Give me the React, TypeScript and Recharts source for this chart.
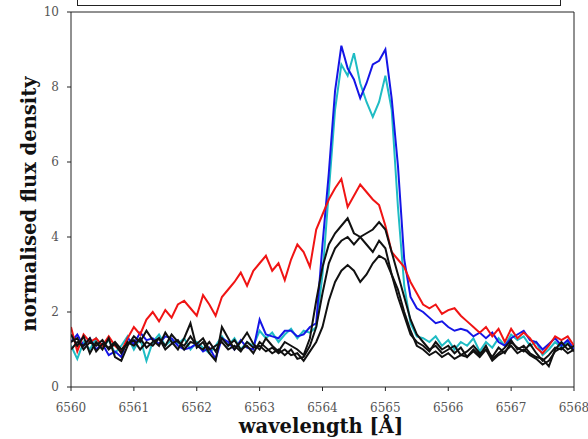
import React from 'react';
import { LineChart, Line, XAxis, YAxis, ReferenceLine } from 'recharts';

// wavelength grid in Angstrom
const wavelength = [
  6560.0, 6560.1, 6560.2, 6560.3, 6560.4, 6560.5, 6560.6, 6560.7, 6560.8, 6560.9,
  6561.0, 6561.1, 6561.2, 6561.3, 6561.4, 6561.5, 6561.6, 6561.7, 6561.8, 6561.9,
  6562.0, 6562.1, 6562.2, 6562.3, 6562.4, 6562.5, 6562.6, 6562.7, 6562.8, 6562.9,
  6563.0, 6563.1, 6563.2, 6563.3, 6563.4, 6563.5, 6563.6, 6563.7, 6563.8, 6563.9,
  6564.0, 6564.1, 6564.2, 6564.3, 6564.4, 6564.5, 6564.6, 6564.7, 6564.8, 6564.9,
  6565.0, 6565.1, 6565.2, 6565.3, 6565.4, 6565.5, 6565.6, 6565.7, 6565.8, 6565.9,
  6566.0, 6566.1, 6566.2, 6566.3, 6566.4, 6566.5, 6566.6, 6566.7, 6566.8, 6566.9,
  6567.0, 6567.1, 6567.2, 6567.3, 6567.4, 6567.5, 6567.6, 6567.7, 6567.8, 6567.9,
  6568.0,
];

const redFlux = [
  1.6, 0.95, 1.4, 1.2, 1.3, 1.1, 1.35, 1.1, 0.95, 1.3,
  1.6, 1.4, 1.8, 2.0, 1.75, 2.05, 1.85, 2.2, 2.3, 2.1,
  1.9, 2.45, 2.2, 1.9, 2.4, 2.6, 2.8, 3.05, 2.7, 3.1,
  3.3, 3.5, 3.1, 3.3, 2.85, 3.4, 3.8, 3.6, 3.2, 4.2,
  4.6, 5.0, 5.3, 5.55, 4.8, 5.1, 5.4, 5.2, 5.0, 4.85,
  4.3, 3.6, 3.4, 3.2, 2.8, 2.5, 2.2, 2.1, 2.2, 1.95,
  2.05, 2.1, 1.9, 1.75, 1.6, 1.45, 1.6, 1.35, 1.55, 1.2,
  1.55, 1.3, 1.45, 1.3, 1.05, 0.9, 1.1, 1.35, 1.25, 1.35,
  1.1,
];

const blueFlux = [
  1.2, 1.4, 1.1, 1.3, 1.0, 1.15, 0.85, 0.95, 0.8, 1.3,
  1.15, 1.45, 1.25, 1.3, 1.15, 1.35, 1.3, 1.1, 1.0, 1.05,
  1.15, 0.95, 1.05, 0.75, 1.3, 1.2, 1.0, 1.25, 1.05, 1.0,
  1.8, 1.4, 1.35, 1.3, 1.5, 1.5, 1.35, 1.4, 1.6, 1.7,
  3.8, 5.7, 7.9, 9.1, 8.5, 8.2, 7.7, 8.1, 8.6, 8.7,
  9.0, 7.7, 5.9, 3.4, 2.4, 2.1, 2.0, 1.85, 1.7, 1.75,
  1.6, 1.5, 1.55, 1.5, 1.35, 1.45, 1.3, 1.45, 1.2, 1.1,
  1.3, 1.4, 1.5, 1.25, 1.2, 1.0, 1.15, 1.3, 1.1, 1.25,
  1.0,
];

const cyanFlux = [
  1.1, 0.75, 1.2, 1.0, 1.3, 1.05, 1.25, 0.9, 1.1, 1.35,
  1.0, 1.3, 0.7, 1.2, 1.4, 1.1, 1.25, 1.15, 1.3, 1.0,
  1.2, 1.05, 0.9, 1.1, 1.35, 1.1, 1.3, 1.0, 1.2, 1.1,
  1.5, 1.3, 1.45, 1.2, 1.4, 1.55, 1.3, 1.5, 1.45, 1.6,
  3.0, 5.2, 7.4, 8.6, 8.3, 8.9, 8.1, 7.6, 7.2, 7.6,
  8.3, 7.4, 4.8, 2.7, 1.7, 1.35, 1.3, 1.2, 1.35, 1.1,
  1.25, 1.0, 1.2, 1.1, 1.3, 0.95, 1.2, 1.05, 1.3, 1.1,
  1.4, 1.25, 1.35, 1.1, 1.2, 0.85, 1.0, 1.2, 1.05, 1.2,
  1.0,
];

const blackFluxA = [
  1.4, 1.1, 1.35, 0.9, 1.2, 1.0, 1.3, 0.8, 0.7, 1.1,
  1.35, 1.2, 1.5, 1.25, 1.1, 1.45, 1.2, 1.0, 1.3, 1.7,
  1.05, 1.2, 0.9, 0.7, 1.6, 1.3, 1.0, 1.2, 1.45, 1.15,
  1.0, 1.3, 1.1, 0.95, 1.2, 1.1, 1.0, 0.85, 1.3, 2.3,
  3.2, 3.8, 4.1, 4.3, 4.5, 4.1, 4.0, 3.8, 3.6, 3.9,
  3.7, 3.0, 2.4, 1.9, 1.4, 1.2, 1.1, 0.95, 1.2, 1.0,
  1.1, 0.9, 1.05, 0.8, 1.0, 0.85, 1.1, 0.75, 0.9, 1.05,
  1.25, 1.0, 1.1, 0.9, 0.8, 0.75, 0.55, 1.0, 1.2, 1.0,
  1.1,
];

const blackFluxB = [
  1.2, 1.3, 1.0, 1.2, 1.1, 1.25, 1.0, 1.15, 0.9, 1.2,
  1.1, 1.3, 1.05, 1.2, 1.3, 1.1, 1.4, 1.2, 1.1, 1.35,
  1.1, 1.0, 1.2, 0.95, 1.3, 1.1, 1.25, 1.0, 1.1, 0.9,
  1.2, 1.05, 0.9, 1.0, 0.85, 1.0, 0.75, 0.8, 1.1, 1.6,
  2.5, 3.3, 3.7, 3.9, 4.0, 3.8, 4.0, 4.1, 4.2, 4.4,
  4.2, 3.6, 3.0, 2.4, 1.8, 1.4, 1.2, 1.0, 1.1, 0.9,
  1.0, 1.1, 0.85, 0.95, 1.1, 0.9, 1.0, 0.8, 1.05, 0.9,
  1.2, 1.05, 0.95, 1.15, 0.9, 0.7, 0.85, 1.05, 1.0, 1.15,
  0.95,
];

const blackFluxC = [
  1.0, 1.2, 1.1, 1.3, 0.95, 1.15, 1.05, 1.2, 1.0, 1.15,
  1.25, 1.0, 1.2, 1.1, 1.3, 1.0, 1.15, 1.25, 1.0, 1.2,
  1.15, 1.3, 1.0, 1.1, 1.2, 1.0, 1.1, 0.95, 1.2, 1.05,
  1.1, 0.95, 1.05, 0.9, 1.0, 0.85, 0.9, 0.7, 0.95, 1.2,
  1.6, 2.3, 2.8, 3.1, 3.25, 3.1, 2.8, 3.0, 3.3, 3.5,
  3.4, 3.0, 2.6, 2.0, 1.5, 1.1, 1.0, 0.85, 0.95, 0.8,
  0.9, 0.75, 0.85, 0.8, 0.95, 0.8, 1.0, 0.7, 0.85, 0.95,
  1.1, 0.9, 1.0, 0.85, 0.75, 0.6, 0.7, 0.95, 1.05, 0.9,
  1.0,
];

const xTicks = [6560, 6561, 6562, 6563, 6564, 6565, 6566, 6567, 6568];
const yTicks = [0, 2, 4, 6, 8, 10];

const data = wavelength.map((w, i) => ({
  w,
  red: redFlux[i],
  blue: blueFlux[i],
  cyan: cyanFlux[i],
  k1: blackFluxA[i],
  k2: blackFluxB[i],
  k3: blackFluxC[i],
}));

const tickStyle = { fill: '#555', fontSize: 12, fontFamily: '"DejaVu Serif", serif' };
const labelFont = '"DejaVu Serif", serif';

export default function App() {
  return (
    <div style={{ position: 'absolute', left: 0, top: 0, width: 588, height: 439, background: '#fff', overflow: 'hidden' }}>
      {/* clipped legend box at the top */}
      <div style={{ position: 'absolute', left: 77, top: -20, width: 482, height: 24, border: '1px solid #222' }} />
      <LineChart width={588} height={439} data={data} margin={{ top: 12, right: 14, left: 0, bottom: 0 }}>
        <XAxis
          dataKey="w"
          type="number"
          domain={[6560, 6568]}
          ticks={xTicks}
          allowDataOverflow
          height={52}
          tick={tickStyle}
          tickSize={4}
          stroke="#222"
          tickMargin={12}
        />
        <YAxis
          type="number"
          domain={[0, 10]}
          ticks={yTicks}
          allowDataOverflow
          width={71}
          tick={tickStyle}
          tickSize={4}
          stroke="#222"
          tickMargin={8}
        />
        <ReferenceLine y={10} stroke="#222" strokeWidth={1} />
        <ReferenceLine x={6568} stroke="#222" strokeWidth={1} />
        <Line dataKey="cyan" stroke="#1fbcc4" strokeWidth={2} dot={false} isAnimationActive={false} />
        <Line dataKey="blue" stroke="#1515e6" strokeWidth={2} dot={false} isAnimationActive={false} />
        <Line dataKey="red" stroke="#f01414" strokeWidth={2} dot={false} isAnimationActive={false} />
        <Line dataKey="k1" stroke="#111" strokeWidth={2} dot={false} isAnimationActive={false} />
        <Line dataKey="k2" stroke="#111" strokeWidth={2} dot={false} isAnimationActive={false} />
        <Line dataKey="k3" stroke="#111" strokeWidth={2} dot={false} isAnimationActive={false} />
      </LineChart>
      <div
        style={{
          position: 'absolute', left: 321, top: 426, transform: 'translate(-50%, -50%)',
          fontFamily: labelFont, fontWeight: 'bold', fontSize: 19.5, color: '#111', whiteSpace: 'nowrap',
        }}
      >
        wavelength [Å]
      </div>
      <div
        style={{
          position: 'absolute', left: 29, top: 204, transform: 'translate(-50%, -50%) rotate(-90deg)',
          fontFamily: labelFont, fontWeight: 'bold', fontSize: 19.5, color: '#111', whiteSpace: 'nowrap',
        }}
      >
        normalised flux density
      </div>
    </div>
  );
}
